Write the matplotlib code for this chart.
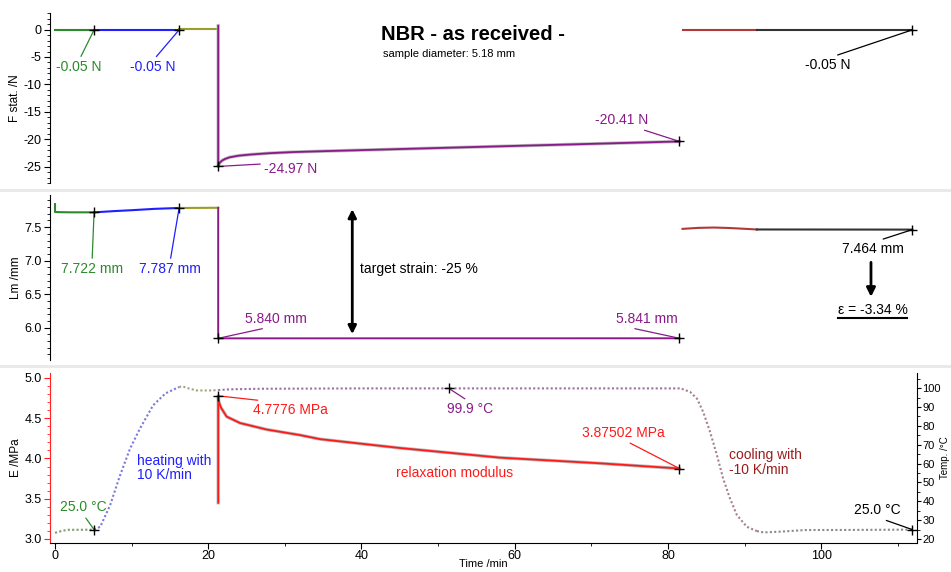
import numpy as np
import matplotlib
matplotlib.use("Agg")
import matplotlib.pyplot as plt
from matplotlib.ticker import MultipleLocator
from matplotlib.lines import Line2D

plt.rcParams['font.family'] = ['Liberation Sans', 'DejaVu Sans']
plt.rcParams['axes.unicode_minus'] = False

# segment colours (solid curves / text)
GREEN = '#2b8a2b'
BLUE = '#1f1fff'
OLIVE = '#9c9c2a'
PURPLE = '#8a1a8a'
BROWN = '#b03a3a'
RED = '#ff1a1a'
DARKRED = '#9c1c1c'

# ---- static force F stat. /N ------------------------------------------
f_green_t = [0.0, 5.1]
f_green = [-0.05, -0.05]
f_blue_t = [5.1, 16.2]
f_blue = [-0.05, -0.05]
f_olive_t = [16.2, 21.3]
f_olive = [0.05, 0.05]
f_purple_t = [21.3, 21.3, 21.35, 21.5, 21.8, 22.2, 22.8, 24.0, 25.5, 28.0,
              31.0, 34.6, 45.0, 58.0, 70.0, 81.5]
f_purple = [0.7, -24.97, -24.7, -24.3, -23.9, -23.6, -23.3, -23.0, -22.8,
            -22.55, -22.35, -22.2, -21.8, -21.3, -20.85, -20.41]
f_red_t = [81.9, 91.6]
f_red = [0.0, 0.0]
f_black_t = [91.6, 111.9]
f_black = [-0.05, -0.05]

# ---- sample length Lm /mm ----------------------------------------------
lm_green_t = [0.0, 0.0, 0.3, 2.0, 5.1]
lm_green = [7.845, 7.728, 7.725, 7.722, 7.722]
lm_blue_t = [5.1, 8.0, 10.2, 13.0, 16.2]
lm_blue = [7.722, 7.742, 7.755, 7.774, 7.787]
lm_olive_t = [16.2, 21.3]
lm_olive = [7.787, 7.79]
lm_purple_t = [21.3, 21.3, 81.5]
lm_purple = [7.79, 5.840, 5.841]
lm_red_t = [81.9, 84.0, 86.0, 88.0, 90.0, 91.6]
lm_red = [7.475, 7.49, 7.495, 7.488, 7.476, 7.466]
lm_black_t = [91.6, 111.9]
lm_black = [7.466, 7.464]

# ---- relaxation modulus E /MPa -----------------------------------------
e_t = [21.3, 21.3, 21.4, 21.67, 22.4, 24.15, 27.6, 32.0, 34.6, 45.0, 58.1,
       71.1, 81.5]
e_mod = [3.45, 4.7776, 4.70, 4.63, 4.52, 4.44, 4.36, 4.29, 4.24, 4.13, 4.01,
         3.94, 3.875]

# ---- temperature /°C -----------------------------------------------------
tmp_green_t = [0.0, 0.8, 1.6, 3.0, 5.1]
tmp_green = [23.3, 24.2, 24.9, 24.9, 25.0]
tmp_blue_t = [5.1, 5.9, 7.2, 8.5, 9.8, 11.1, 12.8, 14.4, 15.7, 16.2]
tmp_blue = [25.0, 26.5, 38.0, 53.9, 68.0, 78.7, 90.9, 97.2, 99.7, 100.6]
tmp_olive_t = [16.2, 16.6, 17.6, 18.5, 20.2, 21.3]
tmp_olive = [100.6, 101.0, 99.7, 98.8, 98.8, 99.0]
tmp_purple_t = [21.3, 22.8, 26.8, 40.0, 51.4, 65.0, 81.8]
tmp_purple = [99.0, 99.4, 99.7, 99.9, 99.9, 99.9, 99.9]
tmp_cool_t = [81.8, 82.9, 83.8, 84.6, 85.5, 86.4, 87.2, 88.1, 89.0, 90.3, 91.6]
tmp_cool = [99.7, 98.0, 94.4, 87.4, 76.8, 64.4, 52.1, 41.5, 32.7, 26.5, 24.2]
tmp_black_t = [91.6, 92.5, 94.6, 98.1, 102.5, 111.9]
tmp_black = [24.2, 23.5, 23.9, 24.8, 24.8, 25.0]

XLIM = (-0.65, 112.5)
TICK_FS = 9

fig = plt.figure(figsize=(9.51, 5.72), dpi=100)
ax1 = fig.add_axes([0.0526, 0.680, 0.9116, 0.297])
ax2 = fig.add_axes([0.0526, 0.371, 0.9116, 0.288])
ax3 = fig.add_axes([0.0526, 0.0507, 0.9116, 0.297])
ax3t = ax3.twinx()

# light grey separators between the panels
for yy in (1 - 190 / 572, 1 - 366 / 572):
    fig.add_artist(Line2D([0, 1], [yy, yy], transform=fig.transFigure,
                          color='#e8e8e8', lw=2))


def style_left(ax, major, minor, spine_color='black'):
    ax.set_xlim(*XLIM)
    for s in ('top', 'right', 'bottom'):
        ax.spines[s].set_visible(False)
    ax.spines['left'].set_color(spine_color)
    ax.yaxis.set_major_locator(MultipleLocator(major))
    ax.yaxis.set_minor_locator(MultipleLocator(minor))
    ax.tick_params(axis='y', which='both', direction='out', colors=spine_color,
                   labelcolor='black', labelsize=TICK_FS, pad=2)
    ax.tick_params(axis='y', which='major', length=4)
    ax.tick_params(axis='y', which='minor', length=2)
    ax.set_xticks([])


def note(ax, text, xy, xytext, color, relpos=(0.5, 1.0)):
    ax.annotate(text, xy=xy, xytext=xytext, color=color, fontsize=10,
                ha='center', va='center',
                arrowprops=dict(arrowstyle='-', color=color, lw=0.9,
                                relpos=relpos, shrinkA=1, shrinkB=0))


def mark(ax, x, y):
    ax.plot(x, y, marker='+', color='black', ms=7, mew=1, zorder=5)


# ---------------- top panel: F stat. -------------------------------------
style_left(ax1, 5, 1)
ax1.set_ylim(-28, 3)
ax1.set_ylabel('F stat. /N', fontsize=8.5, labelpad=2)
ax1.plot(f_green_t, f_green, color=GREEN, lw=1.5)
ax1.plot(f_blue_t, f_blue, color=BLUE, lw=1.5)
ax1.plot(f_olive_t, f_olive, color=OLIVE, lw=1.5)
ax1.plot(f_purple_t, f_purple, color='#bbbbbb', lw=2.4)
ax1.plot(f_purple_t, f_purple, color=PURPLE, lw=1.3)
ax1.plot(f_red_t, f_red, color=BROWN, lw=1.5)
ax1.plot(f_black_t, f_black, color='#333333', lw=1.5)

mark(ax1, f_green_t[-1], f_green[-1])
mark(ax1, f_blue_t[-1], f_blue[-1])
mark(ax1, f_purple_t[1], f_purple[1])
mark(ax1, f_purple_t[-1], f_purple[-1])
mark(ax1, f_black_t[-1], f_black[-1])

note(ax1, '-0.05 N', (f_green_t[-1], f_green[-1]), (3.13, -6.9), GREEN)
note(ax1, '-0.05 N', (f_blue_t[-1], f_blue[-1]), (12.8, -6.9), BLUE)
note(ax1, '-24.97 N', (f_purple_t[1], f_purple[1]), (30.8, -25.5), PURPLE)
note(ax1, '-20.41 N', (f_purple_t[-1], f_purple[-1]), (73.9, -16.5), PURPLE,
     relpos=(0.75, 0.0))
note(ax1, '-0.05 N', (f_black_t[-1], f_black[-1]), (100.9, -6.5), 'black')

fig.text(473 / 951, 1 - 34 / 572, 'NBR - as received -', ha='center',
         va='center', fontsize=14.5, fontweight='bold')
fig.text(383 / 951, 1 - 54 / 572, 'sample diameter: 5.18 mm', ha='left',
         va='center', fontsize=8)

# ---------------- middle panel: Lm ---------------------------------------
style_left(ax2, 0.5, 0.1)
ax2.set_ylim(5.52, 7.98)
ax2.set_ylabel('Lm /mm', fontsize=8.5, labelpad=2)
ax2.plot(lm_green_t, lm_green, color=GREEN, lw=1.5)
ax2.plot(lm_blue_t, lm_blue, color=BLUE, lw=1.5)
ax2.plot(lm_olive_t, lm_olive, color=OLIVE, lw=1.5)
ax2.plot(lm_purple_t, lm_purple, color=PURPLE, lw=1.4)
ax2.plot(lm_red_t, lm_red, color=BROWN, lw=1.5)
ax2.plot(lm_black_t, lm_black, color='#333333', lw=1.5)

mark(ax2, lm_green_t[-1], lm_green[-1])
mark(ax2, lm_blue_t[-1], lm_blue[-1])
mark(ax2, lm_purple_t[1], lm_purple[1])
mark(ax2, lm_purple_t[-1], lm_purple[-1])
mark(ax2, lm_black_t[-1], lm_black[-1])

note(ax2, '7.722 mm', (lm_green_t[-1], lm_green[-1]), (4.83, 6.87), GREEN)
note(ax2, '7.787 mm', (lm_blue_t[-1], lm_blue[-1]), (15.0, 6.87), BLUE)
note(ax2, '5.840 mm', (lm_purple_t[1], lm_purple[1]), (28.9, 6.135), PURPLE,
     relpos=(0.5, 0.0))
note(ax2, '5.841 mm', (lm_purple_t[-1], lm_purple[-1]), (77.2, 6.135), PURPLE,
     relpos=(0.08, 0.0))
note(ax2, '7.464 mm', (lm_black_t[-1], lm_black[-1]), (106.8, 7.17), 'black')

ax2.annotate('', xy=(38.8, lm_purple[-1]), xytext=(38.8, lm_olive[-1]),
             arrowprops=dict(arrowstyle='<|-|>', color='black', lw=2,
                             mutation_scale=12, shrinkA=1, shrinkB=3))
ax2.text(39.8, 6.87, 'target strain: -25 %', fontsize=10, ha='left', va='center')
ax2.annotate('', xy=(106.5, 6.46), xytext=(106.5, 6.975),
             arrowprops=dict(arrowstyle='-|>', color='black', lw=2,
                             mutation_scale=13, shrinkA=0, shrinkB=0))
eps_txt = ax2.text(106.7, 6.27, 'ε = -3.34 %', fontsize=10, ha='center',
                   va='center')

# ---------------- bottom panel: E and temperature --------------------------
style_left(ax3, 0.5, 0.1, spine_color='#ff2020')
ax3.set_ylim(2.95, 5.06)
ax3.set_ylabel('E /MPa', fontsize=8.5, labelpad=2)
ax3.spines['bottom'].set_visible(True)
ax3.xaxis.set_major_locator(MultipleLocator(20))
ax3.xaxis.set_minor_locator(MultipleLocator(10))
ax3.tick_params(axis='x', which='both', direction='out', labelsize=TICK_FS,
                pad=1)
ax3.tick_params(axis='x', which='major', length=4)
ax3.tick_params(axis='x', which='minor', length=2)
ax3.set_xlabel('Time /min', fontsize=8)
ax3.xaxis.set_label_coords(0.5, -0.097)
ax3.plot(e_t, e_mod, color='#bbbbbb', lw=2.4)
ax3.plot(e_t, e_mod, color=RED, lw=1.3)

ax3t.set_xlim(*XLIM)
ax3t.set_ylim(17.9, 108)
for s in ('top', 'left', 'bottom'):
    ax3t.spines[s].set_visible(False)
ax3t.yaxis.set_major_locator(MultipleLocator(10))
ax3t.yaxis.set_minor_locator(MultipleLocator(5))
ax3t.tick_params(axis='y', which='both', direction='out', labelsize=8, pad=1)
ax3t.tick_params(axis='y', which='major', length=3)
ax3t.tick_params(axis='y', which='minor', length=2)
ax3t.set_ylabel('Temp. /°C', fontsize=7)
ax3t.yaxis.set_label_coords((940.5 - 50) / 867, 0.5)

dots = (0, (1, 1.1))
ax3t.plot(tmp_green_t, tmp_green, color='#7f9a6f', lw=1.5, ls=dots)
ax3t.plot(tmp_blue_t, tmp_blue, color='#7a7ad8', lw=1.5, ls=dots)
ax3t.plot(tmp_olive_t, tmp_olive, color='#a4a47c', lw=1.5, ls=dots)
ax3t.plot(tmp_purple_t, tmp_purple, color='#9a70a8', lw=1.5, ls=dots)
ax3t.plot(tmp_cool_t, tmp_cool, color='#a88088', lw=1.5, ls=dots)
ax3t.plot(tmp_black_t, tmp_black, color='#8a8a8a', lw=1.5, ls=dots)

mark(ax3t, tmp_green_t[-1], tmp_green[-1])
mark(ax3, e_t[1], e_mod[1])
mark(ax3t, tmp_purple_t[4], tmp_purple[4])
mark(ax3, e_t[-1], e_mod[-1])
mark(ax3t, tmp_black_t[-1], tmp_black[-1])

note(ax3t, '25.0 °C', (tmp_green_t[-1], tmp_green[-1]), (3.66, 36.9), GREEN,
     relpos=(0.5, 0.0))
note(ax3, '4.7776 MPa', (e_t[1], e_mod[1]), (30.7, 4.6), RED, relpos=(0.42, 1.0))
note(ax3t, '99.9 °C', (tmp_purple_t[4], tmp_purple[4]), (54.2, 88.8), PURPLE)
note(ax3, '3.87502 MPa', (e_t[-1], e_mod[-1]), (74.2, 4.32), RED,
     relpos=(0.5, 0.0))
note(ax3t, '25.0 °C', (tmp_black_t[-1], tmp_black[-1]), (107.3, 35.3), 'black',
     relpos=(0.5, 0.0))
ax3t.text(10.7, 57.6, 'heating with\n10 K/min', color=BLUE, fontsize=10,
          ha='left', va='center', linespacing=1.05)
ax3t.text(52.2, 54.9, 'relaxation modulus', color=RED, fontsize=10,
          ha='center', va='center')
ax3t.text(88.0, 60.7, 'cooling with\n-10 K/min', color=DARKRED, fontsize=10,
          ha='left', va='center', linespacing=1.05)

# underline of the strain result, measured from the rendered text
fig.canvas.draw()
bb = eps_txt.get_window_extent().transformed(fig.transFigure.inverted())
fig.add_artist(Line2D([bb.x0, bb.x1], [bb.y0 - 0.002, bb.y0 - 0.002],
                      transform=fig.transFigure, color='black', lw=1.5))

fig.savefig('out.png', dpi=100)
